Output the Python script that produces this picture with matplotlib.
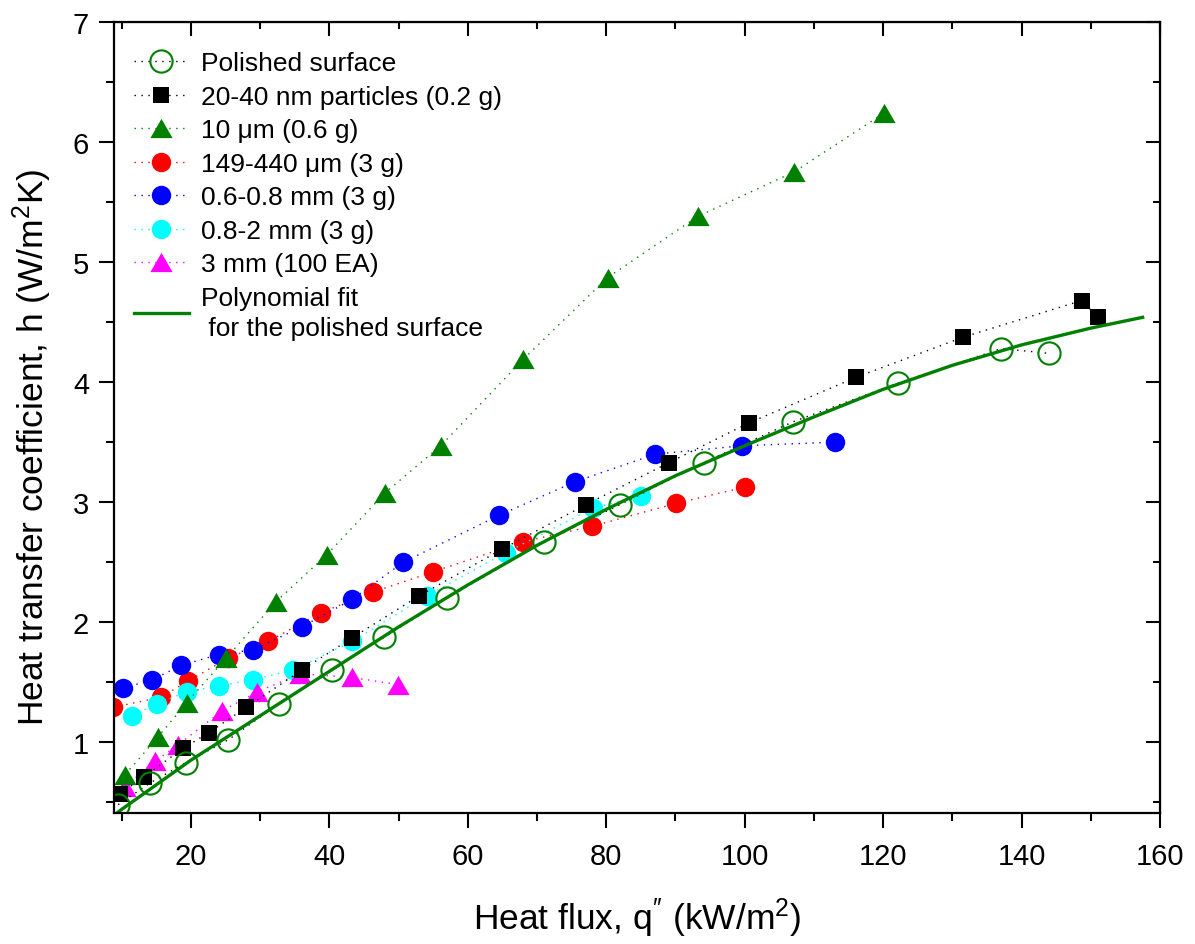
import numpy as np
import matplotlib
matplotlib.use('Agg')
import matplotlib.pyplot as plt
from matplotlib.ticker import MultipleLocator

plt.rcParams['font.family'] = ['Liberation Sans', 'DejaVu Sans']
plt.rcParams['mathtext.default'] = 'regular'

# polished surface (open circles)
pol_x = [9.5, 14.1, 19.3, 25.4, 32.7, 40.4, 47.9, 57.0, 71.0, 82.0, 94.1, 107.0, 122.1, 137.1, 143.9]
pol_y = [0.48, 0.66, 0.83, 1.02, 1.32, 1.60, 1.875, 2.20, 2.67, 2.98, 3.33, 3.67, 3.99, 4.28, 4.24]

# 20-40 nm particles
nano_x = [9.7, 13.2, 18.9, 22.6, 28.0, 36.0, 43.3, 53.0, 65.0, 77.1, 89.1, 100.6, 116.1, 131.6, 148.7, 151.0]
nano_y = [0.57, 0.71, 0.95, 1.08, 1.29, 1.60, 1.87, 2.22, 2.61, 2.98, 3.33, 3.66, 4.04, 4.375, 4.68, 4.54]

# 10 um
um10_x = [10.5, 15.2, 19.4, 25.1, 32.3, 39.6, 48.1, 56.1, 68.0, 80.2, 93.2, 107.1, 120.1]
um10_y = [0.73, 1.04, 1.33, 1.70, 2.17, 2.56, 3.08, 3.47, 4.19, 4.87, 5.38, 5.75, 6.24]

# 149-440 um
um149_x = [8.7, 15.7, 19.6, 25.4, 31.2, 38.8, 46.3, 55.0, 68.0, 78.0, 90.1, 100.0]
um149_y = [1.29, 1.375, 1.51, 1.70, 1.84, 2.08, 2.25, 2.42, 2.67, 2.80, 2.99, 3.125]

# 0.6-0.8 mm
mm06_x = [10.2, 14.4, 18.6, 24.0, 29.0, 36.0, 43.3, 50.7, 64.5, 75.5, 87.1, 99.6, 113.0]
mm06_y = [1.45, 1.52, 1.64, 1.73, 1.77, 1.96, 2.19, 2.50, 2.89, 3.17, 3.40, 3.47, 3.50]

# 0.8-2 mm
mm08_x = [11.5, 15.1, 19.4, 24.1, 29.0, 34.7, 43.3, 54.1, 65.5, 78.1, 85.0]
mm08_y = [1.22, 1.32, 1.42, 1.47, 1.52, 1.60, 1.84, 2.22, 2.58, 2.95, 3.05]

# 3 mm (100 EA)
mm3_x = [10.5, 14.8, 18.2, 24.5, 29.6, 35.8, 43.3, 49.9]
mm3_y = [0.63, 0.84, 0.98, 1.26, 1.42, 1.57, 1.54, 1.48]

# polynomial fit curve
fit_x = [9.1, 10, 20, 30, 40, 50, 60, 70, 80, 90, 100, 110, 120, 130, 140, 150, 157.5]
fit_y = [0.40, 0.44, 0.85, 1.22, 1.59, 1.96, 2.31, 2.64, 2.94, 3.22, 3.47, 3.71, 3.94, 4.14, 4.31, 4.45, 4.54]

tri = [(-1, -0.866), (1, -0.866), (0, 0.866)]
dots = (0, (1, 4))

fig = plt.figure(figsize=(11.95, 9.45), dpi=100)
ax = fig.add_axes([0.0954, 0.1386, 0.8753, 0.8370])

h_red, = ax.plot(um149_x, um149_y, ls=dots, lw=1, color='#ff0000', marker='o', ms=14, mew=0,
                 label='149-440 \u03bcm (3 g)')
h_blue, = ax.plot(mm06_x, mm06_y, ls=dots, lw=1, color='#0000ff', marker='o', ms=14, mew=0,
                  label='0.6-0.8 mm (3 g)')
h_cyan, = ax.plot(mm08_x, mm08_y, ls=dots, lw=1, color='#00ffff', marker='o', ms=14, mew=0,
                  label='0.8-2 mm (3 g)')
h_mag, = ax.plot(mm3_x, mm3_y, ls=dots, lw=1, color='#ff00ff', marker=tri, ms=16, mew=0,
                 label='3 mm (100 EA)')
h_green, = ax.plot(um10_x, um10_y, ls=dots, lw=1, color='#008000', marker=tri, ms=16, mew=0,
                   label='10 \u03bcm (0.6 g)')
h_black, = ax.plot(nano_x, nano_y, ls=dots, lw=1, color='black', marker='s', ms=12, mew=0,
                   label='20-40 nm particles (0.2 g)')
h_pol, = ax.plot(pol_x, pol_y, ls=dots, lw=1, color='black', marker='o', ms=16,
                 mfc='none', mec='#008000', mew=1.5, label='Polished surface')
h_fit, = ax.plot(fit_x, fit_y, color='#008000', lw=2.4, solid_joinstyle='round',
                 label='Polynomial fit\n for the polished surface')

ax.set_xlim(8.9, 160)
ax.set_ylim(0.41, 7)
ax.xaxis.set_major_locator(MultipleLocator(20))
ax.xaxis.set_minor_locator(MultipleLocator(10))
ax.yaxis.set_major_locator(MultipleLocator(1))
ax.yaxis.set_minor_locator(MultipleLocator(0.5))
ax.tick_params(which='both', direction='out', width=1.5, labelsize=21)
ax.tick_params(which='major', length=11)
ax.tick_params(which='minor', length=6)
ax.tick_params(axis='x', which='major', pad=10)
ax.tick_params(axis='y', which='major', pad=7)
for s in ax.spines.values():
    s.set_linewidth(1.6)

# mirrored ticks pointing inward on top and right
top = ax.secondary_xaxis('top')
top.xaxis.set_major_locator(MultipleLocator(20))
top.xaxis.set_minor_locator(MultipleLocator(10))
top.tick_params(which='both', direction='in', width=1.5, labeltop=False)
top.tick_params(which='major', length=10)
top.tick_params(which='minor', length=5)
right = ax.secondary_yaxis('right')
right.yaxis.set_major_locator(MultipleLocator(1))
right.yaxis.set_minor_locator(MultipleLocator(0.5))
right.tick_params(which='both', direction='in', width=1.5, labelright=False)
right.tick_params(which='major', length=10)
right.tick_params(which='minor', length=5)

ax.set_xlabel(r'Heat flux, q$^{\prime\prime}$ (kW/m$^2$)', fontsize=25.5, labelpad=18)
ax.set_ylabel('Heat transfer coefficient, h (W/m$^2$K)', fontsize=25.5)
ax.yaxis.set_label_coords(-0.057, 0.464)

leg = ax.legend(handles=[h_pol, h_black, h_green, h_red, h_blue, h_cyan, h_mag, h_fit],
                loc='upper left', bbox_to_anchor=(-0.004, 0.993), frameon=False, fontsize=19,
                handlelength=2.1, handletextpad=0.45, labelspacing=0.36, borderaxespad=0.5,
                numpoints=1)
for t in leg.get_texts():
    t.set_linespacing(1.3)

fig.savefig('out.png', dpi=100)
